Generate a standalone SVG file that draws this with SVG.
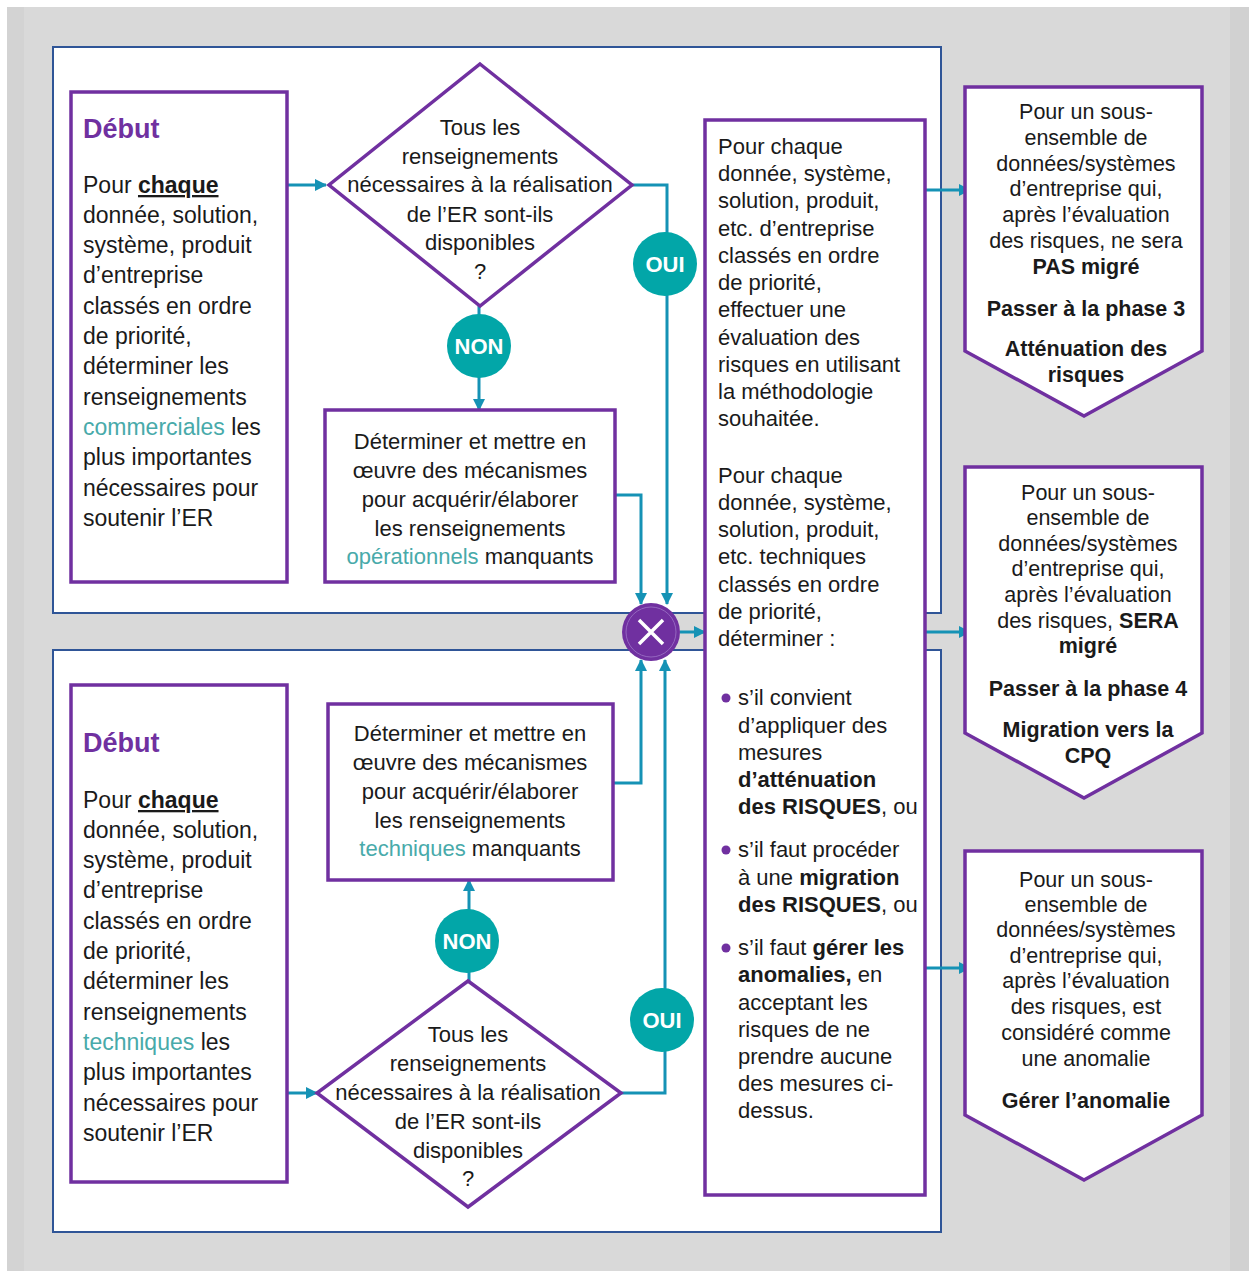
<svg xmlns="http://www.w3.org/2000/svg" width="1249" height="1271" viewBox="0 0 1249 1271">
<style>
text{font-family:"Liberation Sans",Arial,sans-serif;fill:#1a1a1a}
.s23{font-size:23px}
.s22{font-size:22px}
.s21{font-size:21.5px}
.c{text-anchor:middle}
.b{font-weight:bold}
.teal{fill:#48aaaa}
.title{font-size:27px;font-weight:bold;fill:#7030a0}
.lbl{font-size:22px;font-weight:bold;fill:#ffffff;text-anchor:middle}
.box{fill:#ffffff;stroke:#7030a0;stroke-width:3.5}
.panel{fill:#ffffff;stroke:#2f5597;stroke-width:2}
.yn{fill:#02a6a8}
.con{fill:none;stroke:#1592b5;stroke-width:3}
</style>
<defs>
<marker id="ah" viewBox="0 0 12 12" refX="11" refY="6" markerWidth="12" markerHeight="12" markerUnits="userSpaceOnUse" orient="auto">
<path d="M0,0 L12,6 L0,12 Z" fill="#1592b5"/>
</marker>
</defs>
<rect x="7" y="7" width="1242" height="1264" fill="#d9d9d9"/>
<rect x="7" y="7" width="17" height="1264" fill="#d3d3d3"/>
<rect x="1230" y="7" width="19" height="1264" fill="#d1d1d1"/>
<rect class="panel" x="53" y="47" width="888" height="566"/>
<rect class="panel" x="53" y="650" width="888" height="582"/>

<g id="connectors">
<path class="con" d="M262,185 H326" marker-end="url(#ah)"/>
<path class="con" d="M632,185 H667 V604" marker-end="url(#ah)"/>
<path class="con" d="M479,306 V410" marker-end="url(#ah)"/>
<path class="con" d="M615,495 H641 V604" marker-end="url(#ah)"/>
<path class="con" d="M613,783 H641 V660" marker-end="url(#ah)"/>
<path class="con" d="M469,981 V880" marker-end="url(#ah)"/>
<path class="con" d="M621,1093 H665 V660" marker-end="url(#ah)"/>
<path class="con" d="M288,1093 H317" marker-end="url(#ah)"/>
<path class="con" d="M680,632 H705" marker-end="url(#ah)"/>
<path class="con" d="M925,190 H970" marker-end="url(#ah)"/>
<path class="con" d="M925,632 H970" marker-end="url(#ah)"/>
<path class="con" d="M925,968 H970" marker-end="url(#ah)"/>
</g>

<g id="start-top">
<rect class="box" x="71" y="92" width="216" height="490"/>
<text class="title" x="83" y="138">Début</text>
<text class="s23" x="83" y="193">Pour <tspan class="b" text-decoration="underline">chaque</tspan></text>
<text class="s23" x="83" y="223">donnée, solution,</text>
<text class="s23" x="83" y="253">système, produit</text>
<text class="s23" x="83" y="283">d’entreprise</text>
<text class="s23" x="83" y="314">classés en ordre</text>
<text class="s23" x="83" y="344">de priorité,</text>
<text class="s23" x="83" y="374">déterminer les</text>
<text class="s23" x="83" y="405">renseignements</text>
<text class="s23" x="83" y="435"><tspan class="teal">commerciales</tspan> les</text>
<text class="s23" x="83" y="465">plus importantes</text>
<text class="s23" x="83" y="496">nécessaires pour</text>
<text class="s23" x="83" y="526">soutenir l’ER</text>
</g>

<g id="decision-top">
<path class="box" d="M480,64 L632,185 L480,306 L329,185 Z"/>
<text class="s22 c" x="480" y="135">Tous les</text>
<text class="s22 c" x="480" y="164">renseignements</text>
<text class="s22 c" x="480" y="192">nécessaires à la réalisation</text>
<text class="s22 c" x="480" y="222">de l’ER sont-ils</text>
<text class="s22 c" x="480" y="250">disponibles</text>
<text class="s22 c" x="480" y="279">?</text>
</g>

<g id="non-top">
<circle class="yn" cx="479" cy="346" r="32"/>
<text class="lbl" x="479" y="354">NON</text>
</g>
<g id="oui-top">
<circle class="yn" cx="665" cy="264" r="32"/>
<text class="lbl" x="665" y="272">OUI</text>
</g>

<g id="ops-box">
<rect class="box" x="325" y="410" width="290" height="172"/>
<text class="s22 c" x="470" y="449">Déterminer et mettre en</text>
<text class="s22 c" x="470" y="478">œuvre des mécanismes</text>
<text class="s22 c" x="470" y="507">pour acquérir/élaborer</text>
<text class="s22 c" x="470" y="536">les renseignements</text>
<text class="s22 c" x="470" y="564"><tspan class="teal">opérationnels</tspan> manquants</text>
</g>

<g id="merge">
<circle cx="651" cy="632" r="29" fill="#7030a0"/>
<circle cx="651" cy="632" r="25" fill="none" stroke="#9466bf" stroke-width="1"/>
<path d="M639,620 L663,644 M663,620 L639,644" stroke="#ffffff" stroke-width="3.5" fill="none"/>
</g>

<g id="start-bottom">
<rect class="box" x="71" y="685" width="216" height="497"/>
<text class="title" x="83" y="752">Début</text>
<text class="s23" x="83" y="808">Pour <tspan class="b" text-decoration="underline">chaque</tspan></text>
<text class="s23" x="83" y="838">donnée, solution,</text>
<text class="s23" x="83" y="868">système, produit</text>
<text class="s23" x="83" y="898">d’entreprise</text>
<text class="s23" x="83" y="929">classés en ordre</text>
<text class="s23" x="83" y="959">de priorité,</text>
<text class="s23" x="83" y="989">déterminer les</text>
<text class="s23" x="83" y="1020">renseignements</text>
<text class="s23" x="83" y="1050"><tspan class="teal">techniques</tspan> les</text>
<text class="s23" x="83" y="1080">plus importantes</text>
<text class="s23" x="83" y="1111">nécessaires pour</text>
<text class="s23" x="83" y="1141">soutenir l’ER</text>
</g>

<g id="tech-box">
<rect class="box" x="328" y="704" width="285" height="176"/>
<text class="s22 c" x="470" y="741">Déterminer et mettre en</text>
<text class="s22 c" x="470" y="770">œuvre des mécanismes</text>
<text class="s22 c" x="470" y="799">pour acquérir/élaborer</text>
<text class="s22 c" x="470" y="828">les renseignements</text>
<text class="s22 c" x="470" y="856"><tspan class="teal">techniques</tspan> manquants</text>
</g>

<g id="non-bottom">
<circle class="yn" cx="467" cy="941" r="32"/>
<text class="lbl" x="467" y="949">NON</text>
</g>
<g id="oui-bottom">
<circle class="yn" cx="662" cy="1020" r="32"/>
<text class="lbl" x="662" y="1028">OUI</text>
</g>

<g id="decision-bottom">
<path class="box" d="M468,981 L621,1093 L468,1207 L317,1093 Z"/>
<text class="s22 c" x="468" y="1042">Tous les</text>
<text class="s22 c" x="468" y="1071">renseignements</text>
<text class="s22 c" x="468" y="1100">nécessaires à la réalisation</text>
<text class="s22 c" x="468" y="1129">de l’ER sont-ils</text>
<text class="s22 c" x="468" y="1158">disponibles</text>
<text class="s22 c" x="468" y="1186">?</text>
</g>

<g id="assessment">
<rect class="box" x="705" y="120" width="220" height="1075"/>
<text class="s22" x="718" y="154">Pour chaque</text>
<text class="s22" x="718" y="181">donnée, système,</text>
<text class="s22" x="718" y="208">solution, produit,</text>
<text class="s22" x="718" y="236">etc. d’entreprise</text>
<text class="s22" x="718" y="263">classés en ordre</text>
<text class="s22" x="718" y="290">de priorité,</text>
<text class="s22" x="718" y="317">effectuer une</text>
<text class="s22" x="718" y="345">évaluation des</text>
<text class="s22" x="718" y="372">risques en utilisant</text>
<text class="s22" x="718" y="399">la méthodologie</text>
<text class="s22" x="718" y="426">souhaitée.</text>
<text class="s22" x="718" y="483">Pour chaque</text>
<text class="s22" x="718" y="510">donnée, système,</text>
<text class="s22" x="718" y="537">solution, produit,</text>
<text class="s22" x="718" y="564">etc. techniques</text>
<text class="s22" x="718" y="592">classés en ordre</text>
<text class="s22" x="718" y="619">de priorité,</text>
<text class="s22" x="718" y="646">déterminer :</text>
<circle cx="726" cy="698" r="4.5" fill="#7030a0"/>
<text class="s22" x="738" y="705">s’il convient</text>
<text class="s22" x="738" y="733">d’appliquer des</text>
<text class="s22" x="738" y="760">mesures</text>
<text class="s22 b" x="738" y="787">d’atténuation</text>
<text class="s22" x="738" y="814"><tspan class="b">des RISQUES</tspan>, ou</text>
<circle cx="726" cy="850" r="4.5" fill="#7030a0"/>
<text class="s22" x="738" y="857">s’il faut procéder</text>
<text class="s22" x="738" y="885">à une <tspan class="b">migration</tspan></text>
<text class="s22" x="738" y="912"><tspan class="b">des RISQUES</tspan>, ou</text>
<circle cx="726" cy="948" r="4.5" fill="#7030a0"/>
<text class="s22" x="738" y="955">s’il faut <tspan class="b">gérer les</tspan></text>
<text class="s22" x="738" y="982"><tspan class="b">anomalies,</tspan> en</text>
<text class="s22" x="738" y="1010">acceptant les</text>
<text class="s22" x="738" y="1037">risques de ne</text>
<text class="s22" x="738" y="1064">prendre aucune</text>
<text class="s22" x="738" y="1091">des mesures ci-</text>
<text class="s22" x="738" y="1118">dessus.</text>
</g>

<g id="outcome-phase3">
<path class="box" d="M965,87 H1202 V351 L1084,416 L965,351 Z"/>
<text class="s21 c" x="1086" y="119">Pour un sous-</text>
<text class="s21 c" x="1086" y="145">ensemble de</text>
<text class="s21 c" x="1086" y="171">données/systèmes</text>
<text class="s21 c" x="1086" y="196">d’entreprise qui,</text>
<text class="s21 c" x="1086" y="222">après l’évaluation</text>
<text class="s21 c" x="1086" y="248">des risques, ne sera</text>
<text class="s21 c b" x="1086" y="274">PAS migré</text>
<text class="s21 c b" x="1086" y="316">Passer à la phase 3</text>
<text class="s21 c b" x="1086" y="356">Atténuation des</text>
<text class="s21 c b" x="1086" y="382">risques</text>
</g>

<g id="outcome-phase4">
<path class="box" d="M965,467 H1202 V733 L1084,798 L965,733 Z"/>
<text class="s21 c" x="1088" y="500">Pour un sous-</text>
<text class="s21 c" x="1088" y="525">ensemble de</text>
<text class="s21 c" x="1088" y="551">données/systèmes</text>
<text class="s21 c" x="1088" y="576">d’entreprise qui,</text>
<text class="s21 c" x="1088" y="602">après l’évaluation</text>
<text class="s21 c" x="1088" y="628">des risques, <tspan class="b">SERA</tspan></text>
<text class="s21 c b" x="1088" y="653">migré</text>
<text class="s21 c b" x="1088" y="696">Passer à la phase 4</text>
<text class="s21 c b" x="1088" y="737">Migration vers la</text>
<text class="s21 c b" x="1088" y="763">CPQ</text>
</g>

<g id="outcome-anomaly">
<path class="box" d="M965,851 H1202 V1115 L1084,1180 L965,1115 Z"/>
<text class="s21 c" x="1086" y="887">Pour un sous-</text>
<text class="s21 c" x="1086" y="912">ensemble de</text>
<text class="s21 c" x="1086" y="937">données/systèmes</text>
<text class="s21 c" x="1086" y="963">d’entreprise qui,</text>
<text class="s21 c" x="1086" y="988">après l’évaluation</text>
<text class="s21 c" x="1086" y="1014">des risques, est</text>
<text class="s21 c" x="1086" y="1040">considéré comme</text>
<text class="s21 c" x="1086" y="1066">une anomalie</text>
<text class="s21 c b" x="1086" y="1108">Gérer l’anomalie</text>
</g>
</svg>
